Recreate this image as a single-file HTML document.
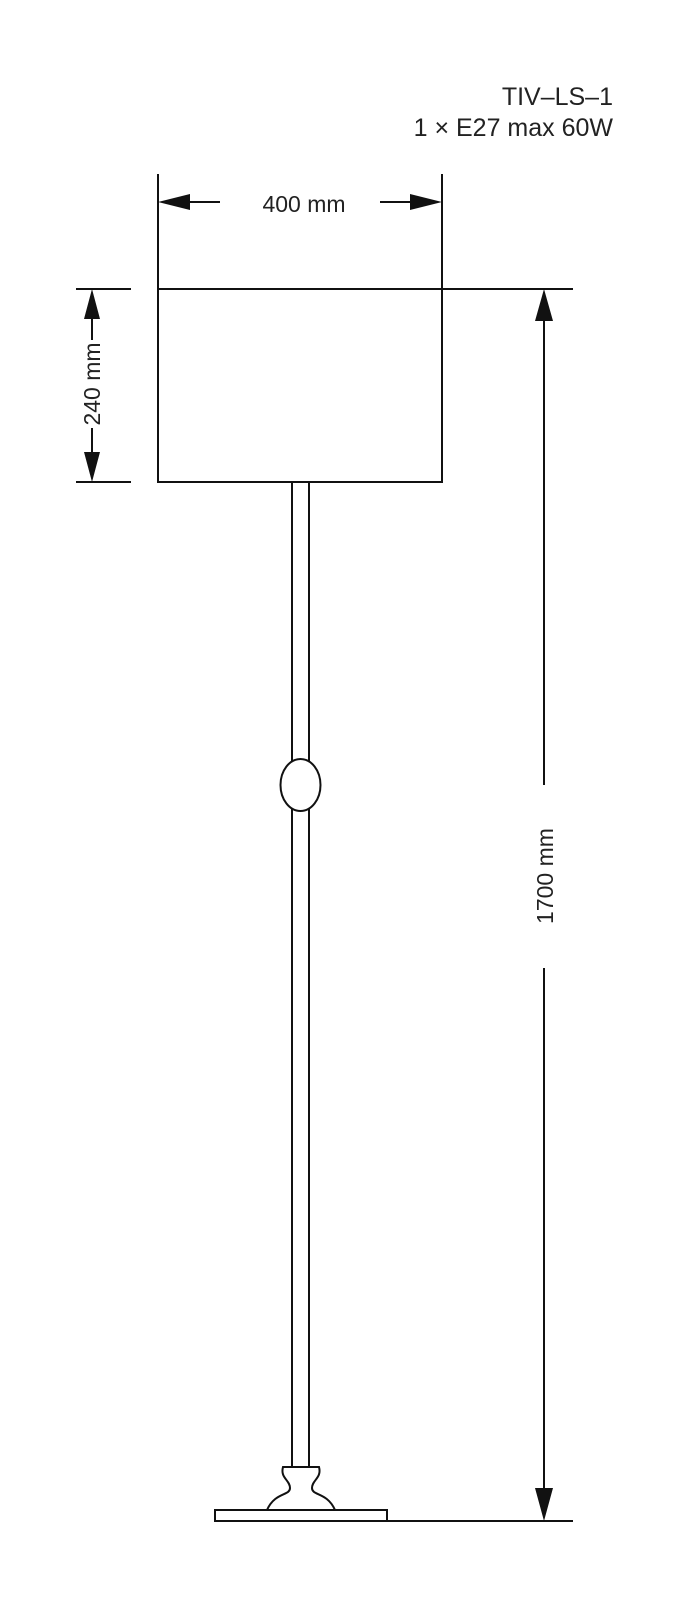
<!DOCTYPE html>
<html><head><meta charset="utf-8"><style>
html,body{margin:0;padding:0;background:#fff}
svg{display:block}
text{font-family:"Liberation Sans",sans-serif;fill:#222}
</style></head><body>
<svg width="688" height="1600" viewBox="0 0 688 1600" xmlns="http://www.w3.org/2000/svg">
<text x="613" y="105" font-size="25" text-anchor="end" fill="#333">TIV–LS–1</text>
<text x="613" y="136" font-size="25" text-anchor="end" fill="#333">1 × E27 max 60W</text>
<g stroke="#111" stroke-width="2" fill="none">
<line x1="158" y1="174" x2="158" y2="289"/>
<line x1="442" y1="174" x2="442" y2="289"/>
<line x1="186" y1="202" x2="220" y2="202"/>
<line x1="380" y1="202" x2="414" y2="202"/>
<rect x="158" y="289" width="284" height="193"/>
<line x1="76" y1="289" x2="131" y2="289"/>
<line x1="76" y1="482" x2="131" y2="482"/>
<line x1="92" y1="315" x2="92" y2="340"/>
<line x1="92" y1="428" x2="92" y2="456"/>
<line x1="442" y1="289" x2="573" y2="289"/>
<line x1="387" y1="1521" x2="573" y2="1521"/>
<line x1="544" y1="320" x2="544" y2="785"/>
<line x1="544" y1="968" x2="544" y2="1490"/>
<line x1="292" y1="482" x2="292" y2="762"/>
<line x1="309" y1="482" x2="309" y2="762"/>
<line x1="292" y1="808" x2="292" y2="1467"/>
<line x1="309" y1="808" x2="309" y2="1467"/>
<ellipse cx="300.5" cy="785" rx="20" ry="26"/>
<path d="M267 1510 C275 1492 290 1496 290 1488 C290 1480 280 1478 283 1467 L319 1467 C322 1478 312 1480 312 1488 C312 1496 327 1492 335 1510"/>
<rect x="215" y="1510" width="172" height="11"/>
</g>
<g fill="#111">
<polygon points="158,202 190,194 190,210"/>
<polygon points="442,202 410,194 410,210"/>
<polygon points="92,289 84,319 100,319"/>
<polygon points="92,482 84,452 100,452"/>
<polygon points="544,289 535,321 553,321"/>
<polygon points="544,1521 535,1488 553,1488"/>
</g>
<text x="304" y="212" font-size="23" text-anchor="middle">400 mm</text>
<text transform="translate(100,384) rotate(-90)" font-size="23" text-anchor="middle">240 mm</text>
<text transform="translate(553,876) rotate(-90)" font-size="23" text-anchor="middle">1700 mm</text>
</svg>
</body></html>
